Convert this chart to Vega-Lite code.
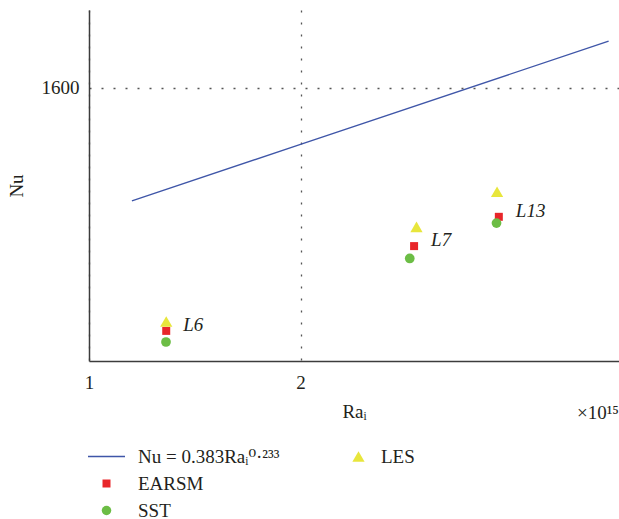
{
  "$schema": "https://vega.github.io/schema/vega-lite/v6.json",
  "width": 530,
  "height": 351,
  "autosize": {"type": "none"},
  "padding": {"left": 89, "top": 10, "right": 0, "bottom": 158},
  "background": "white",
  "config": {
    "view": {"stroke": null},
    "font": "Liberation Serif, DejaVu Serif",
    "axis": {
      "domainColor": "#3c3c3c",
      "domainWidth": 1.5,
      "ticks": false,
      "labelFont": "Liberation Serif, DejaVu Serif",
      "labelFontSize": 19,
      "labelColor": "#231f20",
      "titleFont": "Liberation Serif, DejaVu Serif",
      "titleFontSize": 19,
      "titleFontWeight": "normal",
      "titleColor": "#231f20",
      "gridColor": "#555555",
      "gridDash": [2, 10],
      "gridWidth": 1.3
    }
  },
  "datasets": {
    "curve": [
      {"series": "Nu = 0.383Raᵢ⁰·²³³", "Ra": 1.151, "Nu": 1237},
      {"series": "Nu = 0.383Raᵢ⁰·²³³", "Ra": 2.0, "Nu": 1407},
      {"series": "Nu = 0.383Raᵢ⁰·²³³", "Ra": 5.49, "Nu": 1780}
    ],
    "cases": [
      {"case": "L6", "series": "LES", "Ra": 1.288, "Nu": 940},
      {"case": "L6", "series": "EARSM", "Ra": 1.288, "Nu": 920},
      {"case": "L6", "series": "SST", "Ra": 1.287, "Nu": 897},
      {"case": "L7", "series": "LES", "Ra": 2.925, "Nu": 1166},
      {"case": "L7", "series": "EARSM", "Ra": 2.902, "Nu": 1116},
      {"case": "L7", "series": "SST", "Ra": 2.861, "Nu": 1085},
      {"case": "L13", "series": "LES", "Ra": 3.809, "Nu": 1263},
      {"case": "L13", "series": "EARSM", "Ra": 3.831, "Nu": 1193},
      {"case": "L13", "series": "SST", "Ra": 3.802, "Nu": 1176}
    ]
  },
  "layer": [
    {
      "data": {"name": "curve"},
      "mark": {"type": "line", "strokeWidth": 1.4},
      "encoding": {
        "x": {
          "field": "Ra",
          "type": "quantitative",
          "scale": {"type": "log", "domain": [1, 5.68], "nice": false},
          "axis": {
            "values": [1, 2],
            "labelExpr": "datum.value",
            "title": "Raᵢ",
            "labelPadding": 12,
            "titlePadding": 10,
            "labelFlush": false
          }
        },
        "y": {
          "field": "Nu",
          "type": "quantitative",
          "scale": {"type": "log", "domain": [859, 1911], "nice": false},
          "axis": {
            "values": [1600],
            "labelExpr": "datum.value",
            "title": "Nu",
            "labelPadding": 10,
            "titlePadding": 15
          }
        },
        "color": {
          "field": "series",
          "type": "nominal",
          "scale": {
            "domain": ["Nu = 0.383Raᵢ⁰·²³³", "EARSM", "SST"],
            "range": ["#3f56a8", "#e8262a", "#6cbd45"]
          },
          "legend": {
            "title": null,
            "orient": "none",
            "legendX": 8,
            "legendY": 437,
            "padding": 0,
            "labelFont": "Liberation Serif, DejaVu Serif",
            "labelFontSize": 19,
            "labelColor": "#231f20",
            "labelLimit": 400,
            "labelOffset": 22,
            "rowPadding": 7,
            "encode": {
              "symbols": {
                "update": {
                  "size": {"signal": "datum.value === 'EARSM' ? 64 : datum.value === 'SST' ? 90 : 1369"},
                  "fill": {"scale": "color", "field": "value"},
                  "stroke": {"scale": "color", "field": "value"},
                  "strokeWidth": {"signal": "datum.value === 'EARSM' || datum.value === 'SST' ? 0 : 1.5"},
                  "opacity": {"value": 1}
                }
              }
            }
          }
        }
      }
    },
    {
      "data": {"name": "cases"},
      "transform": [{"filter": "datum.series !== 'LES'"}],
      "mark": {"type": "point", "filled": true, "opacity": 1},
      "encoding": {
        "x": {"field": "Ra", "type": "quantitative"},
        "y": {"field": "Nu", "type": "quantitative"},
        "color": {"field": "series", "type": "nominal"},
        "shape": {
          "field": "series",
          "type": "nominal",
          "scale": {
            "domain": ["Nu = 0.383Raᵢ⁰·²³³", "EARSM", "SST"],
            "range": ["stroke", "square", "circle"]
          }
        },
        "size": {
          "field": "series",
          "type": "nominal",
          "scale": {"domain": ["EARSM", "SST"], "range": [64, 95]},
          "legend": null
        }
      }
    },
    {
      "data": {"name": "cases"},
      "transform": [{"filter": "datum.series === 'LES'"}],
      "mark": {"type": "point", "filled": true, "shape": "triangle-up", "size": 150, "opacity": 1},
      "encoding": {
        "x": {"field": "Ra", "type": "quantitative"},
        "y": {"field": "Nu", "type": "quantitative"},
        "fill": {
          "field": "series",
          "type": "nominal",
          "scale": {"domain": ["LES"], "range": ["#e8e63c"]},
          "legend": {
            "title": null,
            "orient": "none",
            "legendX": 260,
            "legendY": 437,
            "padding": 0,
            "symbolType": "triangle-up",
            "symbolSize": 150,
            "symbolOpacity": 1,
            "labelFont": "Liberation Serif, DejaVu Serif",
            "labelFontSize": 19,
            "labelColor": "#231f20",
            "labelOffset": 13
          }
        }
      }
    },
    {
      "data": {"name": "cases"},
      "transform": [{"filter": "datum.series === 'EARSM'"}],
      "mark": {
        "type": "text",
        "align": "left",
        "baseline": "middle",
        "dx": 17,
        "dy": -6,
        "font": "Liberation Serif, DejaVu Serif",
        "fontStyle": "italic",
        "fontSize": 19,
        "color": "#231f20"
      },
      "encoding": {
        "x": {"field": "Ra", "type": "quantitative"},
        "y": {"field": "Nu", "type": "quantitative"},
        "text": {"field": "case"}
      }
    },
    {
      "data": {"values": [{"label": "×10¹⁵"}]},
      "mark": {
        "type": "text",
        "align": "right",
        "baseline": "middle",
        "dy": 52,
        "font": "Liberation Serif, DejaVu Serif",
        "fontSize": 19,
        "fill": "#231f20"
      },
      "encoding": {
        "x": {"value": {"expr": "width"}},
        "y": {"value": {"expr": "height"}},
        "text": {"field": "label", "type": "nominal"}
      }
    }
  ]
}
